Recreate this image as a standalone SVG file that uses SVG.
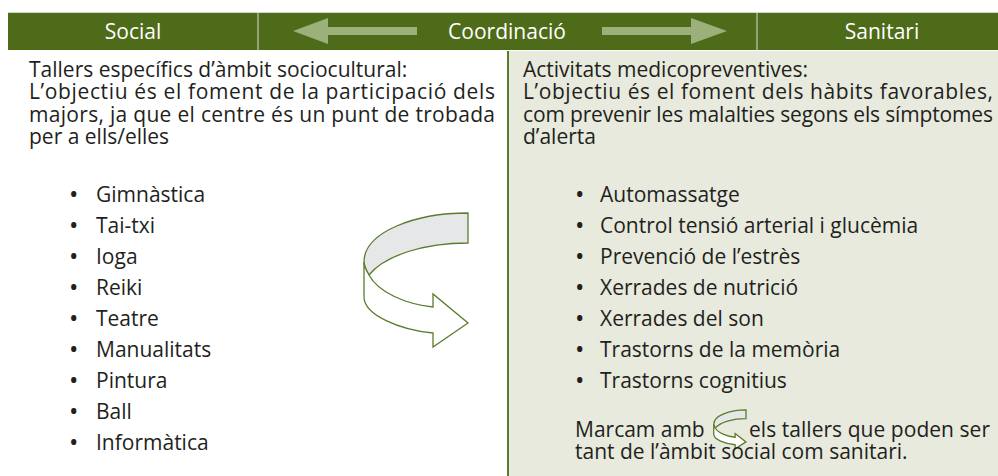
<svg xmlns="http://www.w3.org/2000/svg" xmlns:xlink="http://www.w3.org/1999/xlink" width="998" height="476" viewBox="0 0 998 476">
<style>
  .t { font-family: "Open Sans", "Noto Sans", sans-serif; font-size: 21px; fill: #231f20; }
  .b { font-family: "Open Sans", "Noto Sans", sans-serif; font-size: 25px; fill: #231f20; }
  .h { font-family: "Open Sans", "Noto Sans", sans-serif; font-size: 21px; fill: #ffffff; text-anchor: middle; }
  .curl path { stroke: #5c7c2c; stroke-width: 1.3; stroke-linejoin: miter; vector-effect: non-scaling-stroke; }
  .harrow { fill: #9bb07a; }
</style>
<defs>
  <g id="curl" class="curl">
    <path d="M468,213 L468,243 C425,243 385,255 369,275 C366,270 364,266 364,262 C364,232 415,213 468,213 Z" fill="#e6e7e9"/>
    <path d="M364,262 L364,297 C364,315 400,330 433,333 L433,347 L468,323 L433,294 L433,307 C405,304 378,292 369,275 C366,270 364,266 364,262 Z" fill="#ffffff"/>
  </g>
</defs>
<rect width="998" height="476" fill="#ffffff"/>

<g id="panel-sanitari">
  <rect x="508" y="51" width="490" height="425" fill="#e7eadd"/>
  <line x1="508" y1="51" x2="508" y2="476" stroke="#5b7a2d" stroke-width="2"/>
</g>

<g id="header">
  <rect x="8" y="13" width="990" height="37" fill="#4e6b19"/>
  <line x1="8" y1="12.5" x2="998" y2="12.5" stroke="#d4d8cc" stroke-width="1"/>
  <line x1="258" y1="13" x2="258" y2="50" stroke="#d8dccc" stroke-width="1"/>
  <line x1="757" y1="13" x2="757" y2="50" stroke="#d8dccc" stroke-width="1"/>
  <text class="h" x="133" y="39">Social</text>
  <text class="h" x="507" y="39">Coordinació</text>
  <text class="h" x="882" y="39">Sanitari</text>
</g>

<g id="connectors">
  <polygon class="harrow" points="293,31 328,18 328,27 417,27 417,35 328,35 328,44"/>
  <polygon class="harrow" points="727,31 691,18 691,27 602,27 602,35 691,35 691,44"/>
  <use xlink:href="#curl"/>
</g>

<g id="node-social">
  <text class="t" x="29" y="77">Tallers específics d’àmbit sociocultural:</text>
  <text class="t" x="29" y="99" textLength="466" lengthAdjust="spacing">L’objectiu és el foment de la participació dels</text>
  <text class="t" x="29" y="121.5" textLength="466" lengthAdjust="spacing">majors, ja que el centre és un punt de trobada</text>
  <text class="t" x="29" y="144">per a ells/elles</text>
  <g id="list-social">
    <text class="b" x="69" y="203">•</text><text class="t" x="96" y="202">Gimnàstica</text>
    <text class="b" x="69" y="234">•</text><text class="t" x="96" y="233">Tai-txi</text>
    <text class="b" x="69" y="265">•</text><text class="t" x="96" y="264">Ioga</text>
    <text class="b" x="69" y="296">•</text><text class="t" x="96" y="295">Reiki</text>
    <text class="b" x="69" y="327">•</text><text class="t" x="96" y="326">Teatre</text>
    <text class="b" x="69" y="358">•</text><text class="t" x="96" y="357">Manualitats</text>
    <text class="b" x="69" y="389">•</text><text class="t" x="96" y="388">Pintura</text>
    <text class="b" x="69" y="420">•</text><text class="t" x="96" y="419">Ball</text>
    <text class="b" x="69" y="451">•</text><text class="t" x="96" y="450">Informàtica</text>
  </g>
</g>

<g id="node-sanitari">
  <text class="t" x="523" y="77">Activitats medicopreventives:</text>
  <text class="t" x="523" y="99" textLength="470" lengthAdjust="spacing">L’objectiu és el foment dels hàbits favorables,</text>
  <text class="t" x="523" y="121.5" textLength="470" lengthAdjust="spacing">com prevenir les malalties segons els símptomes</text>
  <text class="t" x="523" y="144">d’alerta</text>
  <g id="list-sanitari">
    <text class="b" x="575" y="203">•</text><text class="t" x="600" y="202">Automassatge</text>
    <text class="b" x="575" y="234">•</text><text class="t" x="600" y="233">Control tensió arterial i glucèmia</text>
    <text class="b" x="575" y="265">•</text><text class="t" x="600" y="264">Prevenció de l’estrès</text>
    <text class="b" x="575" y="296">•</text><text class="t" x="600" y="295">Xerrades de nutrició</text>
    <text class="b" x="575" y="327">•</text><text class="t" x="600" y="326">Xerrades del son</text>
    <text class="b" x="575" y="358">•</text><text class="t" x="600" y="357">Trastorns de la memòria</text>
    <text class="b" x="575" y="389">•</text><text class="t" x="600" y="388">Trastorns cognitius</text>
  </g>
  <text class="t" x="575" y="437">Marcam amb</text>
  <use xlink:href="#curl" transform="translate(600.9,348.2) scale(0.31,0.29)"/>
  <text class="t" x="749" y="437" textLength="241" lengthAdjust="spacing">els tallers que poden ser</text>
  <text class="t" x="575" y="458.5">tant de l’àmbit social com sanitari.</text>
</g>
</svg>
